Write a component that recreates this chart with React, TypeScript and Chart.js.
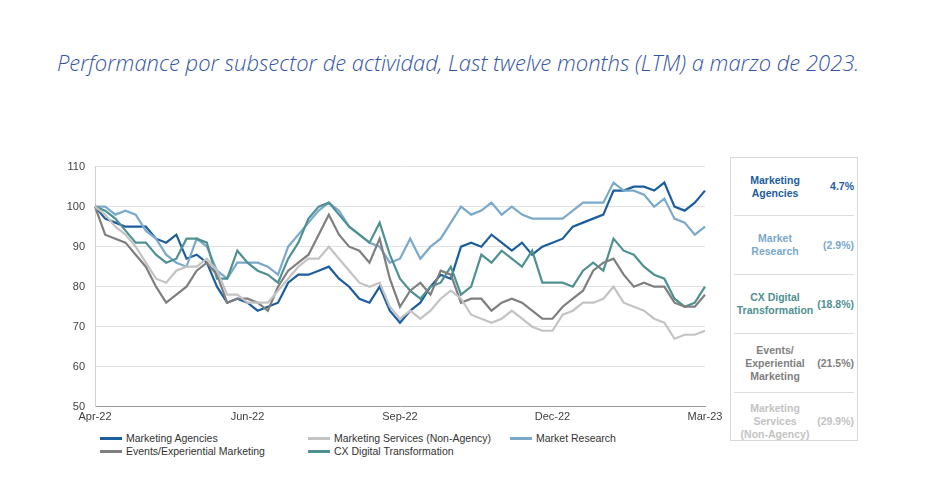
import React, { useEffect, useRef } from "react";
import { Chart, registerables } from "chart.js";
Chart.register(...registerables);

const tickLabels: Record<number, string> = { 0: "Apr-22", 15: "Jun-22", 30: "Sep-22", 45: "Dec-22", 60: "Mar-23" };
const categories = Array.from({ length: 61 }, (_, i) => tickLabels[i] ?? "");

const marketingAgencies = [100,97,96,95,95,95,92,91,93,87,88,86,80,76,77,76,74,75,76,81,83,83,84,85,82,80,77,76,80,74,71,74,76,80,83,82,90,91,90,93,91,89,91,88,90,91,92,95,96,97,98,104,104,105,105,104,106,100,99,101,104];
const marketResearch = [100,100,98,99,98,94,92,88,86,85,92,90,84,82,86,86,86,85,83,90,93,96,99,101,99,95,93,91,90,86,87,92,87,90,92,96,100,98,99,101,98,100,98,97,97,97,97,99,101,101,101,106,104,104,103,100,102,97,96,93,95];
const cxDigital = [100,99,97,94,91,91,88,86,87,92,92,91,82,82,89,86,84,83,81,87,91,97,100,101,98,95,93,91,96,88,82,79,77,80,81,85,78,80,88,86,89,87,85,89,81,81,81,80,84,86,84,92,89,88,85,83,82,77,75,76,80];
const eventsExperiential = [100,93,92,91,88,85,80,76,78,80,84,86,83,76,77,77,76,74,80,84,86,88,93,98,93,90,89,86,92,82,75,79,81,78,84,83,76,77,77,74,76,77,76,74,72,72,75,77,79,84,86,87,83,80,81,80,80,76,75,75,78];
const marketingServices = [100,98,95,93,90,86,82,81,84,85,85,87,84,78,78,76,76,76,79,82,85,87,87,90,87,84,81,80,81,75,72,74,72,74,77,79,77,73,72,71,72,74,72,70,69,69,73,74,76,76,77,80,76,75,74,72,71,67,68,68,69];

const C = { ma: "#1c5d9d", mr: "#7aa9cb", cx: "#4f9191", ev: "#7f7f7f", ms: "#c3c3c3" };

const series = [
  { label: "Marketing Services (Non-Agency)", data: marketingServices, color: C.ms },
  { label: "Events/Experiential Marketing", data: eventsExperiential, color: C.ev },
  { label: "CX Digital Transformation", data: cxDigital, color: C.cx },
  { label: "Market Research", data: marketResearch, color: C.mr },
  { label: "Marketing Agencies", data: marketingAgencies, color: C.ma },
];

const panel = [
  { name: ["Marketing", "Agencies"], val: "4.7%", color: C.ma, h: 57 },
  { name: ["Market", "Research"], val: "(2.9%)", color: C.mr, h: 58 },
  { name: ["CX Digital", "Transformation"], val: "(18.8%)", color: C.cx, h: 58 },
  { name: ["Events/", "Experiential", "Marketing"], val: "(21.5%)", color: C.ev, h: 58 },
  { name: ["Marketing", "Services", "(Non-Agency)"], val: "(29.9%)", color: C.ms, h: 57 },
];

const legendItems = [
  { label: "Marketing Agencies", color: C.ma, x: 100, y: 432 },
  { label: "Marketing Services (Non-Agency)", color: C.ms, x: 308, y: 432 },
  { label: "Market Research", color: C.mr, x: 510, y: 432 },
  { label: "Events/Experiential Marketing", color: C.ev, x: 100, y: 445 },
  { label: "CX Digital Transformation", color: C.cx, x: 308, y: 445 },
];

export default function App() {
  const ref = useRef<HTMLCanvasElement>(null);
  useEffect(() => {
    const chart = new Chart(ref.current!, {
      type: "line",
      data: {
        labels: categories,
        datasets: series.map((s) => ({
          label: s.label, data: s.data, borderColor: s.color, borderWidth: 2.2,
          pointRadius: 0, tension: 0, fill: false,
        })),
      },
      options: {
        animation: false, responsive: false, maintainAspectRatio: false,
        layout: { padding: { top: 6, right: 25, bottom: 0, left: 0 } },
        plugins: { legend: { display: false }, tooltip: { enabled: false } },
        scales: {
          x: {
            grid: { display: false, drawTicks: false },
            border: { color: "#999" },
            ticks: { autoSkip: false, maxRotation: 0, padding: 4, color: "#404040", font: { family: "Liberation Sans", size: 11 } },
          },
          y: {
            min: 50, max: 110,
            afterFit: (s: any) => { s.width = 55; },
            grid: { color: "#e2e2e2", drawTicks: false },
            border: { color: "#d0d0d0" },
            ticks: { stepSize: 10, padding: 10, color: "#404040", font: { family: "Liberation Sans", size: 11 } },
          },
        },
      },
    });
    return () => chart.destroy();
  }, []);

  return (
    <div style={{ position: "fixed", left: 0, top: 0, width: 931, height: 499, background: "#fff", fontFamily: "Liberation Sans, Arial, sans-serif" }}>
      <div style={{ position: "absolute", left: 57, top: 40, width: 840, fontFamily: "Open Sans", fontStyle: "italic", fontSize: 22, lineHeight: "45px", color: "#3455a4", fontWeight: 300 }}>
        Performance por subsector de actividad, Last twelve months (LTM) a marzo de 2023.
      </div>
      <canvas ref={ref} width={690} height={278} style={{ position: "absolute", left: 40, top: 150, width: 690, height: 278 }} />
      {legendItems.map((l) => (
        <div key={l.label} style={{ position: "absolute", left: l.x, top: l.y, display: "flex", alignItems: "center", fontSize: 10.5, color: "#333", whiteSpace: "nowrap" }}>
          <span style={{ display: "inline-block", width: 22, height: 3, background: l.color, marginRight: 4 }} />
          {l.label}
        </div>
      ))}
      <div style={{ position: "absolute", left: 730, top: 157, width: 128, height: 284, border: "1px solid #d8d8d8", boxSizing: "border-box", padding: "0 3px" }}>
        {panel.map((p, i) => (
          <div key={i} style={{ height: p.h, display: "flex", alignItems: "center", borderTop: i ? "1px solid #dcdcdc" : "none", color: p.color, fontWeight: "bold", fontSize: 10.5, lineHeight: "13px" }}>
            <div style={{ width: 82, textAlign: "center" }}>{p.name.map((n, j) => <div key={j}>{n}</div>)}</div>
            <div style={{ flex: 1, textAlign: "right" }}>{p.val}</div>
          </div>
        ))}
      </div>
    </div>
  );
}
